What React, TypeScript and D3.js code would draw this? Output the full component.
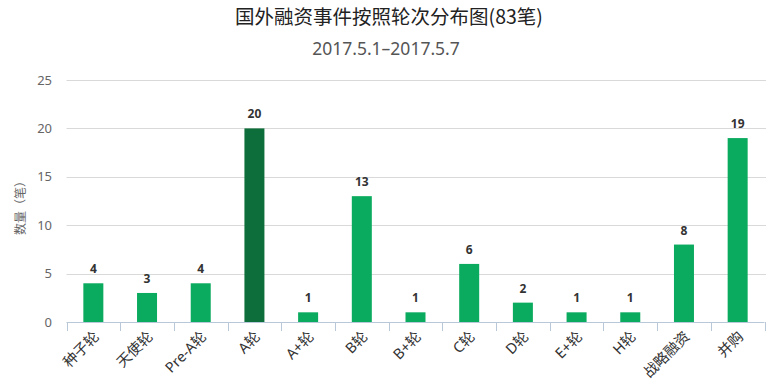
import React from "react";
import * as d3 from "d3";

const categories = ["种子轮", "天使轮", "Pre-A轮", "A轮", "A+轮", "B轮", "B+轮", "C轮", "D轮", "E+轮", "H轮", "战略融资", "并购"];
const values = [4, 3, 4, 20, 1, 13, 1, 6, 2, 1, 1, 8, 19];
const yTicks = [0, 5, 10, 15, 20, 25];
const title = "国外融资事件按照轮次分布图(83笔)";
const subtitle = "2017.5.1–2017.5.7";
const yLabel = "数量（笔）";

const W = 766, H = 385;
const left = 66.5, right = 764.5, top = 80, bottom = 322;

export default function App() {
  const x = d3.scaleBand<string>().domain(categories).range([left, right]).paddingInner(0).paddingOuter(0);
  const y = d3.scaleLinear().domain([0, 25]).range([bottom, top]);
  const barW = 20;
  const maxV = d3.max(values) as number;
  const font = "'Noto Sans', 'Noto Sans CJK SC', sans-serif";
  return (
    <svg width={W} height={H} style={{ position: "absolute", left: 0, top: 0, fontFamily: font }}>
      <rect width={W} height={H} fill="#fff" />
      <text x={W / 2 + 6} y={24} textAnchor="middle" fontSize={19.5} fill="#222" fontFamily="'Noto Sans CJK SC', sans-serif">{title}</text>
      <text x={W / 2 + 3} y={55} textAnchor="middle" fontSize={17.5} fill="#555">{subtitle}</text>
      {yTicks.map((t) => (
        <g key={t}>
          {t > 0 && <line x1={left} x2={W} y1={Math.round(y(t)) + 0.5} y2={Math.round(y(t)) + 0.5} stroke="#d9d9d9" strokeWidth={1} />}
          <text x={52} y={y(t)} dy="0.35em" textAnchor="end" fontSize={13} fill="#666">{t}</text>
        </g>
      ))}
      <text transform={`translate(25,205) rotate(-90)`} textAnchor="middle" fontSize={12} fill="#666" fontFamily="'Noto Sans CJK SC', sans-serif">{yLabel}</text>
      {categories.map((c, i) => {
        const cx = (x(c) as number) + x.bandwidth() / 2;
        const v = values[i];
        return (
          <g key={c}>
            <rect x={cx - barW / 2} y={y(v)} width={barW} height={bottom - y(v)} fill={v === maxV ? "#0e6e3b" : "#0aab5e"} />
            <text x={cx} y={y(v) - 10} textAnchor="middle" fontSize={12} fontWeight="bold" fill="#333">{v}</text>
          </g>
        );
      })}
      <line x1={left} x2={right} y1={bottom + 0.5} y2={bottom + 0.5} stroke="#b9c8d8" />
      {d3.range(categories.length + 1).map((i) => {
        const tx = Math.round(left + i * x.step()) + 0.5;
        return <line key={i} x1={tx} x2={tx} y1={bottom} y2={bottom + 9} stroke="#b9c8d8" />;
      })}
      {categories.map((c) => {
        const cx = (x(c) as number) + x.bandwidth() / 2;
        return (
          <text key={c} transform={`translate(${cx + 3},${bottom + 12}) rotate(-45)`} textAnchor="end" dy="0.35em" fontSize={14.5} fill="#333" fontFamily="'Noto Sans', 'Noto Sans CJK SC', sans-serif">{c}</text>
        );
      })}
    </svg>
  );
}
